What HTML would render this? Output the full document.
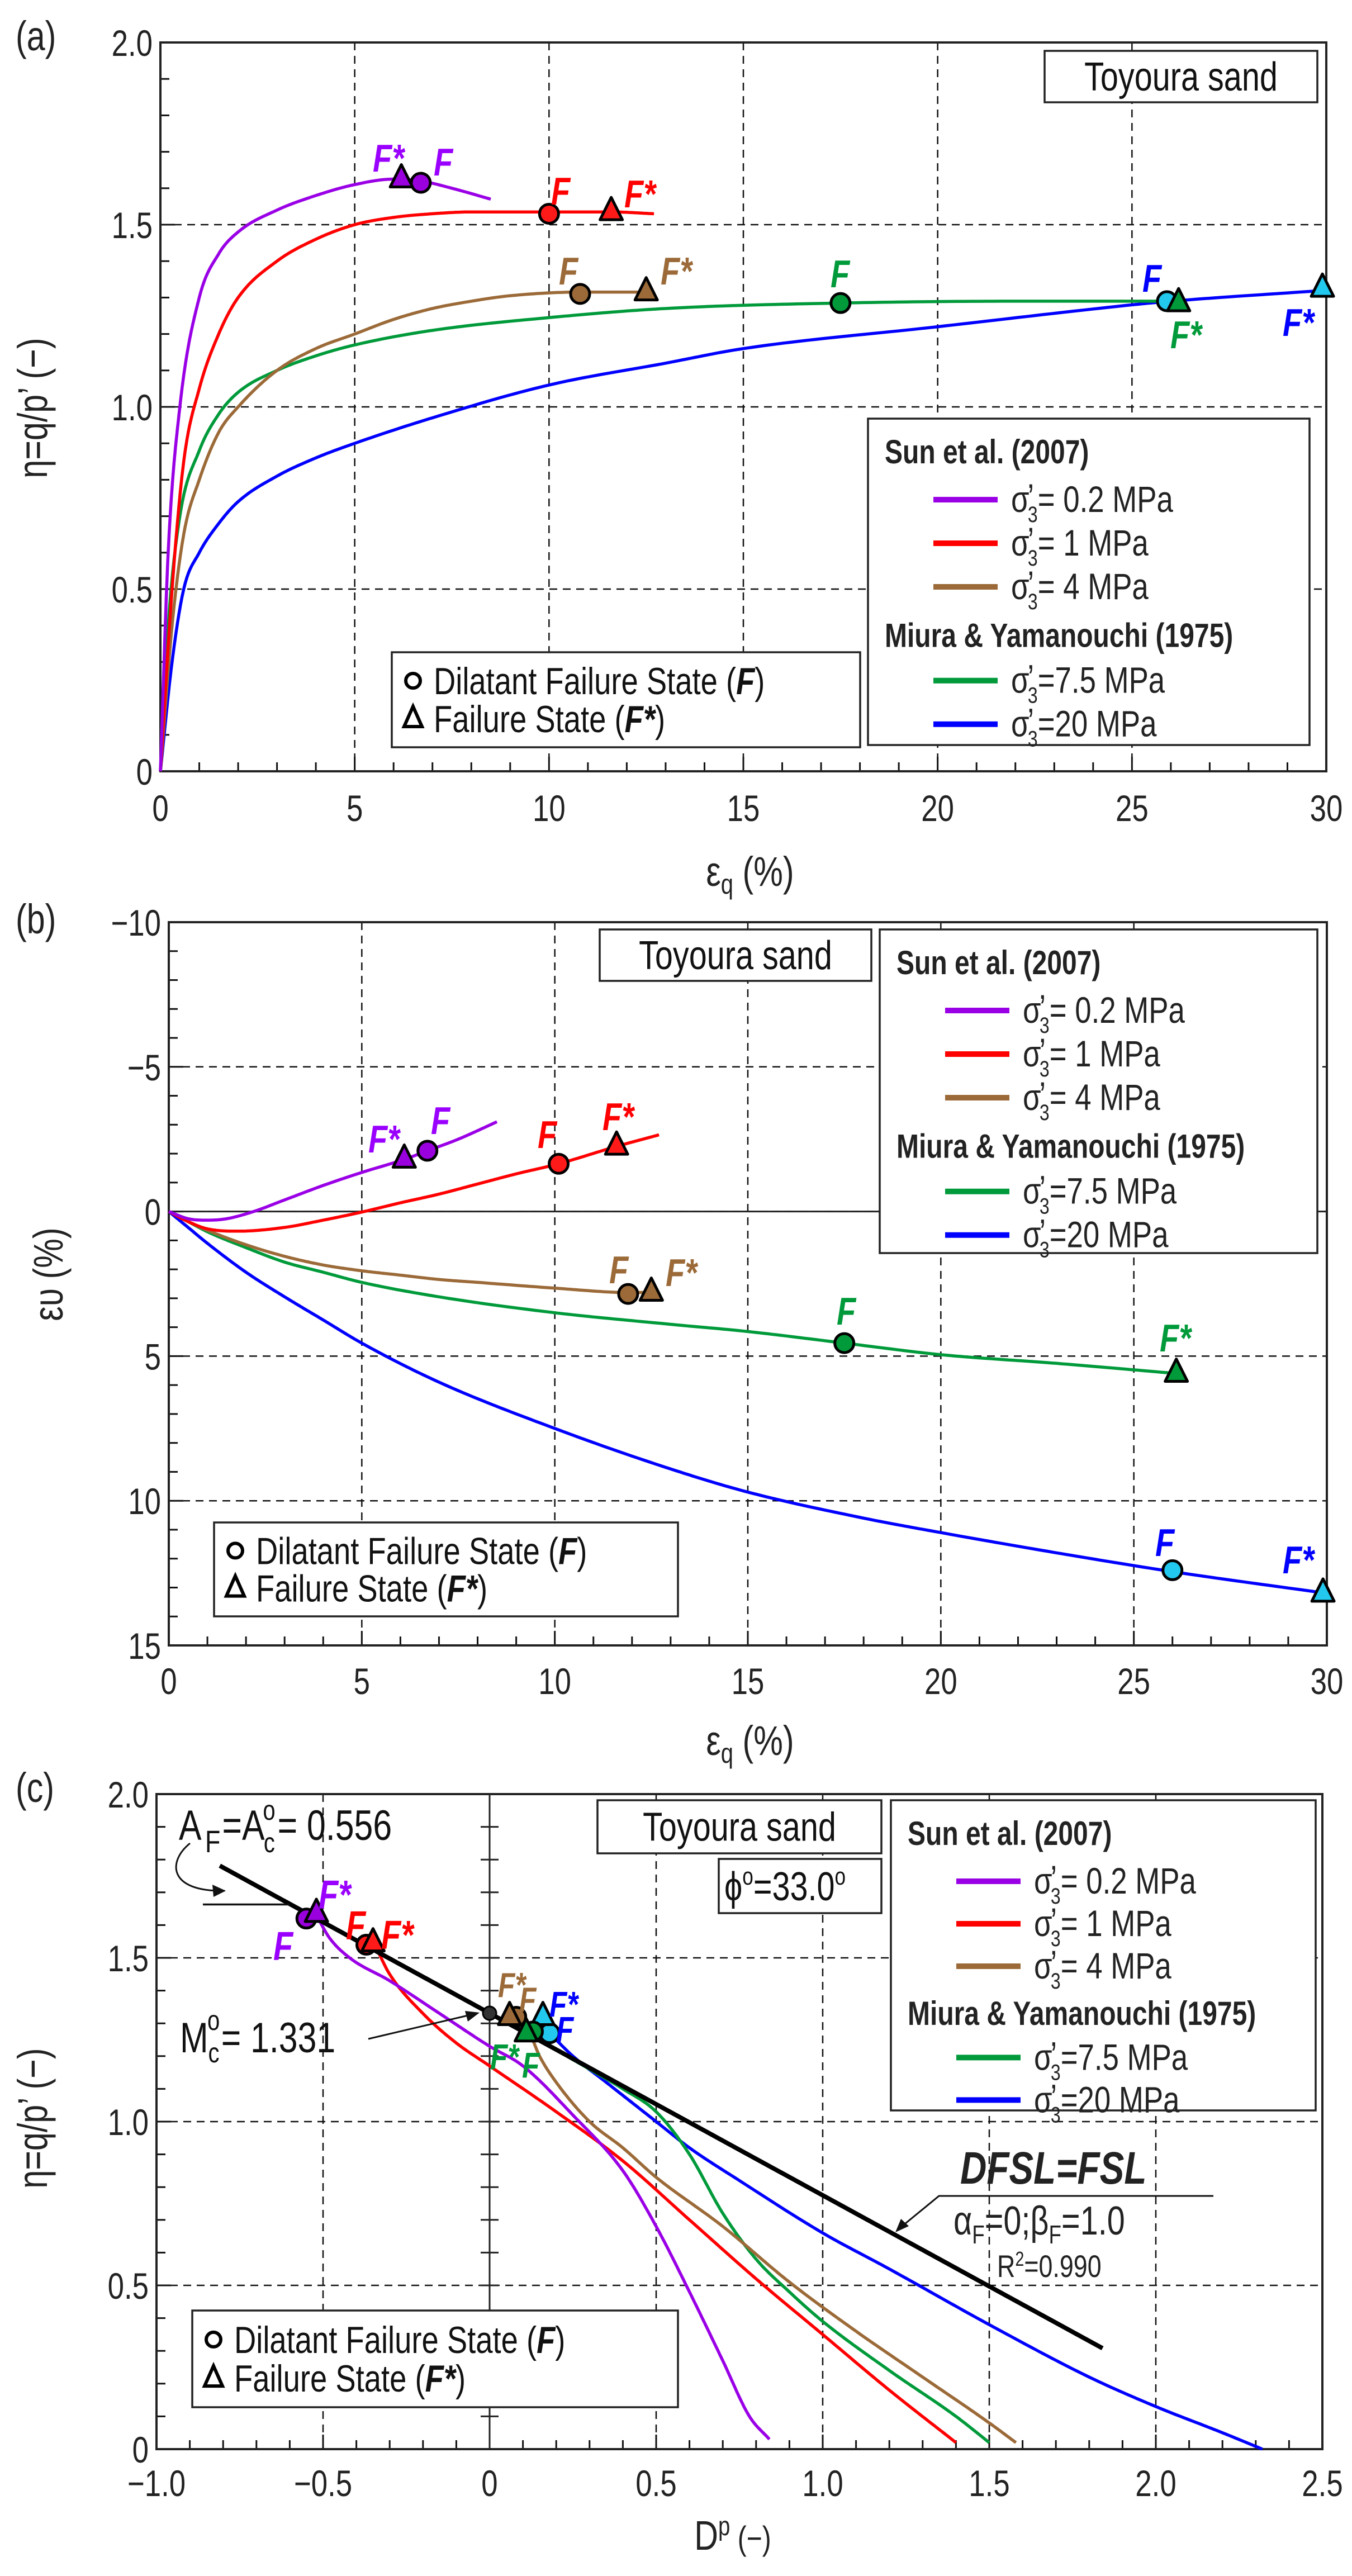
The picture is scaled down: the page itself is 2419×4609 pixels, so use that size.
<!DOCTYPE html>
<html><head><meta charset="utf-8"><title>Toyoura sand failure states</title>
<style>
html,body{margin:0;padding:0;background:#fff;}
svg{display:block;}
text{font-family:"Liberation Sans Narrow","Liberation Sans",sans-serif;}
.b{font-weight:bold;}
.fi{font-family:"Liberation Sans",sans-serif;font-weight:bold;font-style:italic;}
</style></head>
<body>
<svg id="fig" xmlns="http://www.w3.org/2000/svg" width="2419" height="4609" viewBox="0 0 2419 4609"></svg>
<script>
// ---------- Panel (a): eta vs eps_q ----------
const aPurpleX=[0,0.2,0.5,1,1.5,2,3,4,5,6,6.7,7.5,8.5];
const aPurpleY=[0,0.6,1.0,1.3,1.42,1.48,1.54,1.58,1.61,1.625,1.62,1.6,1.57];
const aRedX=[0,0.3,0.6,1,1.5,2,3,4,5,6,7,8,10,11.6,12.7];
const aRedY=[0,0.5,0.85,1.05,1.2,1.3,1.4,1.46,1.5,1.52,1.53,1.535,1.535,1.535,1.53];
const aBrownX=[0,0.3,0.6,1,1.5,2,3,4,5,6,7,8,9,10.8,12.5];
const aBrownY=[0,0.4,0.65,0.8,0.93,1.0,1.1,1.16,1.2,1.24,1.27,1.29,1.305,1.315,1.315];
const aGreenX=[0,0.2,0.5,1,1.5,2,3,4,5,7,10,13,17.5,22,26.2];
const aGreenY=[0,0.4,0.7,0.88,0.98,1.04,1.1,1.14,1.17,1.21,1.245,1.27,1.285,1.29,1.29];
const aBlueX=[0,0.3,0.6,1,1.5,2,3,4,5,7,10,13,15,20,25,26,30];
const aBlueY=[0,0.3,0.5,0.6,0.68,0.74,0.81,0.86,0.9,0.97,1.06,1.12,1.16,1.22,1.28,1.29,1.32];
const aFx=[6.7,10,10.8,17.5,25.9];
const aFy=[1.615,1.53,1.31,1.285,1.29];
const aFsx=[6.2,11.6,12.5,26.2,29.9];
const aFsy=[1.625,1.535,1.315,1.285,1.325];
const aXTicks=[0,5,10,15,20,25,30];
const aYTicks=[0,0.5,1.0,1.5,2.0];
const aYTickLabels=["0","0.5","1.0","1.5","2.0"];

// ---------- Panel (b): eps_v vs eps_q ----------
const bPurpleX=[0,0.5,1,1.5,2.2,3,4,5,6.1,6.7,7.5,8.5];
const bPurpleY=[0,0.25,0.3,0.25,0,-0.4,-0.9,-1.35,-1.8,-2.1,-2.5,-3.1];
const bRedX=[0,0.5,1,1.8,3,4,5,6,7,8,9,10.1,11.6,12.7];
const bRedY=[0,0.35,0.6,0.68,0.55,0.3,0.02,-0.3,-0.6,-0.95,-1.3,-1.65,-2.25,-2.65];
const bBrownX=[0,0.5,1,2,3,4,5,6,7,8,10,11.9,12.5];
const bBrownY=[0,0.35,0.65,1.15,1.55,1.85,2.05,2.2,2.35,2.45,2.65,2.8,2.8];
const bGreenX=[0,0.5,1,2,3,4,5,7,10,13,15,17.5,20,23,26.1];
const bGreenY=[0,0.35,0.7,1.25,1.75,2.1,2.45,2.95,3.5,3.9,4.15,4.55,4.95,5.25,5.6];
const bBlueX=[0,0.5,1,2,3,4,5,7,10,13,15,18,20,23,26,30];
const bBlueY=[0,0.55,1.1,2.1,2.95,3.75,4.55,5.9,7.5,8.9,9.7,10.6,11.1,11.8,12.45,13.2];
const bFx=[6.7,10.1,11.9,17.5,26];
const bFy=[-2.1,-1.65,2.85,4.55,12.4];
const bFsx=[6.1,11.6,12.5,26.1,29.9];
const bFsy=[-1.8,-2.25,2.8,5.6,13.2];
const bXTicks=[0,5,10,15,20,25,30];
const bYTicks=[-10,-5,0,5,10,15];
const bYTickLabels=["\u221210","\u22125","0","5","10","15"];

// ---------- Panel (c): eta vs D^p ----------
const cPurpleX=[-0.52,-0.48,-0.42,-0.3,-0.15,0,0.1,0.25,0.4,0.5,0.6,0.7,0.78,0.84];
const cPurpleY=[1.63,1.56,1.5,1.43,1.33,1.23,1.17,1.02,0.85,0.68,0.48,0.27,0.1,0.03];
const cRedX=[-0.34,-0.3,-0.2,-0.1,0,0.2,0.4,0.6,0.8,1.0,1.2,1.4];
const cRedY=[1.53,1.45,1.33,1.24,1.17,1.03,0.88,0.7,0.52,0.35,0.18,0.02];
const cBrownX=[0.08,0.12,0.15,0.2,0.3,0.4,0.5,0.7,0.9,1.1,1.3,1.5,1.58];
const cBrownY=[1.31,1.27,1.2,1.12,1.0,0.92,0.83,0.68,0.51,0.36,0.22,0.08,0.02];
const cGreenX=[0.13,0.2,0.3,0.4,0.5,0.6,0.7,0.8,0.9,1.0,1.2,1.4,1.5];
const cGreenY=[1.27,1.22,1.16,1.1,1.03,0.9,0.72,0.58,0.48,0.39,0.24,0.1,0.02];
const cBlueX=[0.18,0.25,0.35,0.5,0.6,0.75,1.0,1.2,1.5,1.8,2.0,2.2,2.32];
const cBlueY=[1.27,1.2,1.12,1.0,0.92,0.82,0.66,0.55,0.38,0.22,0.13,0.05,0.0];
const cFx=[-0.55,-0.37,0.08,0.13,0.18];
const cFy=[1.62,1.54,1.32,1.275,1.27];
const cFsx=[-0.52,-0.35,0.06,0.11,0.16];
const cFsy=[1.635,1.545,1.32,1.27,1.32];
const cLineX=[-0.81,1.84];
const cMc=[1.331];
const cAf=[0.556];
const cXTicks=[-1.0,-0.5,0,0.5,1.0,1.5,2.0,2.5];
const cXTickLabels=["\u22121.0","\u22120.5","0","0.5","1.0","1.5","2.0","2.5"];
const cYTicks=[0,0.5,1.0,1.5,2.0];
const cYTickLabels=["0","0.5","1.0","1.5","2.0"];

const NS="http://www.w3.org/2000/svg";
const svg=document.getElementById('fig');
function el(tag,attrs,parent){const e=document.createElementNS(NS,tag);for(const k in attrs)e.setAttribute(k,attrs[k]);(parent||svg).appendChild(e);return e;}
function txt(str,attrs,parent){const e=el('text',attrs,parent);e.textContent=str;return e;}
function lin(a,b,c,d){return v=>c+(v-a)*(d-c)/(b-a);}
// monotone cubic (Fritsch-Carlson) interpolation in data space, sampled densely
function monotonePts(xs,ys,P){
  const n=xs.length,dx=[],m=[],t=new Array(n);
  for(let i=0;i<n-1;i++){dx.push(xs[i+1]-xs[i]);m.push((ys[i+1]-ys[i])/(xs[i+1]-xs[i]));}
  t[0]=m[0];t[n-1]=m[n-2];
  for(let i=1;i<n-1;i++){t[i]=(m[i-1]*m[i]<=0)?0:(m[i-1]+m[i])/2;}
  for(let i=0;i<n-1;i++){
    if(m[i]===0){t[i]=0;t[i+1]=0;continue;}
    const a=t[i]/m[i],b=t[i+1]/m[i],s=a*a+b*b;
    if(s>9){const k=3/Math.sqrt(s);t[i]=k*a*m[i];t[i+1]=k*b*m[i];}
  }
  const out=[];
  for(let i=0;i<n-1;i++){
    const N=24;
    for(let k=0;k<N;k++){const u=k/N,h=dx[i];
      const h00=2*u*u*u-3*u*u+1,h10=u*u*u-2*u*u+u,h01=-2*u*u*u+3*u*u,h11=u*u*u-u*u;
      const y=h00*ys[i]+h10*h*t[i]+h01*ys[i+1]+h11*h*t[i+1];
      out.push([P.x(xs[i]+u*h),P.y(y)]);}
  }
  out.push([P.x(xs[n-1]),P.y(ys[n-1])]);
  return out;
}
const LINECOL=['#9a00e6','#ff0000','#9b6a38','#009a3a','#0000ff'];
const FILLCOL=['#9900dd','#ff1a1a','#9b6a38','#009a3a','#22c8ee'];
const LABCOL=['#9a00ff','#ff0000','#9b6a38','#009a3a','#0000ff'];
const NAMES=['0-2-mpa','1-mpa','4-mpa','7-5-mpa','20-mpa'];

function axes(g,P,xt,xtl,yt,ytl,xminor,yminor,tickY){
  xt.forEach(v=>{const X=P.x(v);if(Math.abs(X-P.L)<3||Math.abs(X-P.R)<3)return;
    const l=el('line',{x1:X,y1:P.T,x2:X,y2:P.B,stroke:'#111','stroke-width':2.5,'stroke-dasharray':'14 10'},g);
    
    });
  yt.forEach(v=>{const Y=P.y(v);if(Math.abs(Y-P.T)<3||Math.abs(Y-P.B)<3)return;
    const l=el('line',{x1:P.L,y1:Y,x2:P.R,y2:Y,stroke:'#111','stroke-width':2.5,'stroke-dasharray':'14 10'},g);
    
    });
  for(let v=xminor[0];v<=xminor[1]+1e-9;v+=xminor[2]){const X=P.x(v);
    const major=xt.some(t=>Math.abs(t-v)<1e-6);
    const l=el('line',{x1:X,y1:P.B,x2:X,y2:P.B-(major?26:16),stroke:'#111','stroke-width':3},g);
    
    }
  for(let v=yminor[0];v<=yminor[1]+1e-9;v+=yminor[2]){const Y=P.y(v);
    const major=yt.some(t=>Math.abs(t-v)<1e-6);
    const l=el('line',{x1:P.L,y1:Y,x2:P.L+(major?26:16),y2:Y,stroke:'#111','stroke-width':3},g);
    
    }
  const fr=el('rect',{x:P.L,y:P.T,width:P.R-P.L,height:P.B-P.T,fill:'none',stroke:'#222','stroke-width':4},g);
  
  
  xt.forEach((v,i)=>{const t=txt(xtl[i],{x:P.x(v),y:tickY,'font-size':66,'text-anchor':'middle',fill:'#222'},g);
    
    });
  yt.forEach((v,i)=>{const t=txt(ytl[i],{x:P.L-14,y:P.y(v)+24,'font-size':66,'text-anchor':'end',fill:'#222'},g);
    
    });
}
function series(g,P,xs,ys,i){
  const pts=monotonePts(xs,ys,P);
  const p=el('polyline',{points:pts.map(q=>q[0].toFixed(1)+','+q[1].toFixed(1)).join(' '),fill:'none',stroke:LINECOL[i],'stroke-width':5.5,'stroke-linejoin':'round'},g);
  
  
}
function markers(g,P,fx,fy,fsx,fsy,order){
  order.forEach(i=>{
    const X=P.x(fx[i]),Y=P.y(fy[i]);
    const c=el('circle',{cx:X,cy:Y,r:17,fill:FILLCOL[i],stroke:'#000','stroke-width':5},g);
    
    
    const X2=P.x(fsx[i]),Y2=P.y(fsy[i]);
    const t=el('polygon',{points:`${X2},${Y2-26} ${X2-20},${Y2+14} ${X2+20},${Y2+14}`,fill:FILLCOL[i],stroke:'#000','stroke-width':5,'stroke-linejoin':'round'},g);
    
    
  });
}
function flab(g,s,x,y,i,fs){
  const t=el('text',{x:x,y:y,'font-size':fs||70,fill:LABCOL[i],class:'fi'},g);
  t.textContent=s;
  
  
}
function boxText(g,x,y,w,h,str,name){
  const r=el('rect',{x:x,y:y,width:w,height:h,fill:'#fff',stroke:'#222','stroke-width':3.5},g);
  
  
  const t=txt(str,{x:x+w/2,y:y+h/2+25,'font-size':72,'text-anchor':'middle',fill:'#111'},g);
  
  
}
function sigmaText(g,x,y,val){
  const t=el('text',{x:x,y:y,'font-size':66,fill:'#222'},g);
  
  
  const a=el('tspan',{},t);a.textContent='σ';
  const b=el('tspan',{dx:-4,dy:-4},t);b.textContent='’';
  const c=el('tspan',{dx:-14,dy:22,'font-size':40},t);c.textContent='3';
  const d=el('tspan',{dy:-18},t);d.textContent=val;
}
function legend(g,x,y,w,h,gap){
  const r=el('rect',{x:x,y:y,width:w,height:h,fill:'#fff',stroke:'#222','stroke-width':3.5},g);
  
  
  const h1=txt('Sun et al. (2007)',{x:x+30,y:y+80,'font-size':60,class:'b',fill:'#222'},g);
  
  
  const vals=['= 0.2 MPa','= 1 MPa','= 4 MPa','=7.5 MPa','=20 MPa'];
  const ys=[y+145,y+145+gap,y+145+2*gap,y+145+3*gap+gap*1.15,y+145+4*gap+gap*1.15];
  const h2=txt('Miura & Yamanouchi (1975)',{x:x+30,y:ys[2]+gap*1.38,'font-size':60,class:'b',fill:'#222'},g);
  
  
  vals.forEach((v,i)=>{
    const l=el('line',{x1:x+117,y1:ys[i],x2:x+232,y2:ys[i],stroke:LINECOL[i],'stroke-width':10},g);
    
    
    sigmaText(g,x+256,ys[i]+22,v);
  });
}
function stateLegend(g,x,y,w,h){
  const r=el('rect',{x:x,y:y,width:w,height:h,fill:'#fff',stroke:'#222','stroke-width':3.5},g);
  
  
  const c=el('circle',{cx:x+38,cy:y+h*0.3,r:13,fill:'#fff',stroke:'#000','stroke-width':6},g);
  
  
  const tr=el('polygon',{points:`${x+38},${y+h*0.7-22} ${x+22},${y+h*0.7+14} ${x+54},${y+h*0.7+14}`,fill:'#fff',stroke:'#000','stroke-width':6},g);
  
  
  const t1=el('text',{x:x+75,y:y+h*0.3+24,'font-size':68,fill:'#111'},g);
  
  
  t1.appendChild(document.createTextNode('Dilatant Failure State ('));
  const f1=el('tspan',{class:'fi'},t1);f1.textContent='F';
  t1.appendChild(document.createTextNode(')'));
  const t2=el('text',{x:x+75,y:y+h*0.7+24,'font-size':68,fill:'#111'},g);
  
  
  t2.appendChild(document.createTextNode('Failure State ('));
  const f2=el('tspan',{class:'fi'},t2);f2.textContent='F*';
  t2.appendChild(document.createTextNode(')'));
}
function panelLabel(g,s,y){const t=txt(s,{x:28,y:y,'font-size':74,fill:'#222'},g);
  
  }
function ylab(g,s,x,y){const t=txt(s,{x:x,y:y,'font-size':74,'text-anchor':'middle',fill:'#222','data-rot':'1'},g);
  
  return t;}
function epsq(g,cx,y){const t=el('text',{x:cx,y:y,'font-size':74,'text-anchor':'middle',fill:'#222'},g);
  
  
  const a=el('tspan',{},t);a.textContent='ε';
  const b=el('tspan',{dy:14,'font-size':50},t);b.textContent='q';
  const c=el('tspan',{dy:-14},t);c.textContent=' (%)';}

// ===== Panel A =====
(function(){
  const g=el('g',{});
  
  
  const P={L:287,R:2373,T:76,B:1380};P.x=lin(0,30,P.L,P.R);P.y=lin(0,2,P.B,P.T);
  axes(g,P,aXTicks,aXTicks.map(String),aYTicks,aYTickLabels,[0,30,1],[0,2,0.1],1469);
  const X=[aPurpleX,aRedX,aBrownX,aGreenX,aBlueX],Y=[aPurpleY,aRedY,aBrownY,aGreenY,aBlueY];
  [4,3,2,1,0].forEach(i=>series(g,P,X[i],Y[i],i));
  markers(g,P,aFx,aFy,aFsx,aFsy,[0,1,2,4,3]);
  flab(g,'F*',667,307,0);flab(g,'F',776,314,0);
  flab(g,'F',986,366,1);flab(g,'F*',1117,371,1);
  flab(g,'F',1000,509,2);flab(g,'F*',1182,509,2);
  flab(g,'F',1486,514,3);flab(g,'F*',2094,623,3);
  flab(g,'F',2044,522,4);flab(g,'F*',2295,601,4);
  boxText(g,1869,91,488,92,'Toyoura sand','material-label-box');
  legend(g,1553,749,790,584,78);
  stateLegend(g,701,1167,838,170);
  panelLabel(g,'(a)',90);
  ylab(g,'η=q/p’ (−)',84,730);
  epsq(g,1342,1585);
})();

// ===== Panel B =====
(function(){
  const g=el('g',{});
  
  
  const P={L:302,R:2374,T:1650,B:2944};P.x=lin(0,30,P.L,P.R);P.y=lin(-10,15,P.T,P.B);
  axes(g,P,bXTicks,bXTicks.map(String),bYTicks,bYTickLabels,[0,30,1],[-10,15,1],3031);
  const z=el('line',{x1:P.L,y1:P.y(0),x2:P.R,y2:P.y(0),stroke:'#222','stroke-width':3},g);
  
  
  const X=[bPurpleX,bRedX,bBrownX,bGreenX,bBlueX],Y=[bPurpleY,bRedY,bBrownY,bGreenY,bBlueY];
  [4,3,2,1,0].forEach(i=>series(g,P,X[i],Y[i],i));
  markers(g,P,bFx,bFy,bFsx,bFsy,[0,1,2,3,4]);
  flab(g,'F*',659,2062,0);flab(g,'F',771,2029,0);
  flab(g,'F',962,2054,1);flab(g,'F*',1078,2022,1);
  flab(g,'F',1090,2296,2);flab(g,'F*',1191,2301,2);
  flab(g,'F',1497,2370,3);flab(g,'F*',2075,2418,3);
  flab(g,'F',2067,2784,4);flab(g,'F*',2295,2815,4);
  boxText(g,1073,1663,486,92,'Toyoura sand','material-label-box');
  legend(g,1574,1663,783,579,78);
  stateLegend(g,383,2724,830,168);
  panelLabel(g,'(b)',1670);
  ylab(g,'ευ (%)',112,2280);
  epsq(g,1342,3140);
})();

// ===== Panel C =====
(function(){
  const g=el('g',{});
  
  
  const P={L:280,R:2366,T:3210,B:4382};P.x=lin(-1,2.5,P.L,P.R);P.y=lin(0,2,P.B,P.T);
  axes(g,P,cXTicks,cXTickLabels,cYTicks,cYTickLabels,[-1,2.5,0.1],[0,2,0.1],4466);
  const X0=P.x(0);
  const v0=el('line',{x1:X0,y1:P.T,x2:X0,y2:P.B,stroke:'#222','stroke-width':3},g);
  
  
  for(let v=0;v<=2.001;v+=0.1){const Y=P.y(v);
    const t=el('line',{x1:X0-16,y1:Y,x2:X0+16,y2:Y,stroke:'#222','stroke-width':3},g);
    
    }
  const X=[cPurpleX,cRedX,cBrownX,cGreenX,cBlueX],Y=[cPurpleY,cRedY,cBrownY,cGreenY,cBlueY];
  [4,3,2,1,0].forEach(i=>series(g,P,X[i],Y[i],i));
  const l=el('line',{x1:P.x(cLineX[0]),y1:P.y(cMc[0]-cAf[0]*cLineX[0]),x2:P.x(cLineX[1]),y2:P.y(cMc[0]-cAf[0]*cLineX[1]),stroke:'#000','stroke-width':8},g);
  
  
  const dot=el('circle',{cx:P.x(0),cy:P.y(cMc[0]),r:12,fill:'#333',stroke:'#000','stroke-width':3},g);
  
  
  markers(g,P,cFx,cFy,cFsx,cFsy,[0,1,2,4,3]);
  flab(g,'F*',570,3415,0,72);flab(g,'F',489,3507,0,72);
  flab(g,'F',619,3470,1,72);flab(g,'F*',682,3487,1,72);
  flab(g,'F*',891,3573,2,62);flab(g,'F',929,3599,2,62);
  flab(g,'F*',983,3608,4,64);flab(g,'F',995,3653,4,64);
  flab(g,'F*',877,3702,3,64);flab(g,'F',934,3717,3,64);
  const af=el('text',{x:320,y:3292,'font-size':76,fill:'#111'},g);
  
  
  [['A',0,0,76],['F',8,22,56],['=A',4,-22,76],['o',-4,-36,50],['c',-26,58,50],['= 0.556',6,-22,76]].forEach(p=>{const s=el('tspan',{dx:p[1],dy:p[2],'font-size':p[3]},af);s.textContent=p[0];});
  const ar1=el('path',{d:'M340,3298 C300,3330 300,3385 402,3383',fill:'none',stroke:'#111','stroke-width':3},g);
  
  
  const ah1=el('polygon',{points:'404,3383 380,3372 382,3394',fill:'#111'},g);
  
  
  const hl=el('line',{x1:363,y1:P.y(1.663),x2:P.x(-0.6),y2:P.y(1.663),stroke:'#111','stroke-width':3.5},g);
  
  
  const mc=el('text',{x:322,y:3672,'font-size':76,fill:'#111'},g);
  
  
  [['M',0,0,76],['o',-2,-40,50],['c',-26,58,50],['= 1.331',4,-18,76]].forEach(p=>{const s=el('tspan',{dx:p[1],dy:p[2],'font-size':p[3]},mc);s.textContent=p[0];});
  const ar2=el('line',{x1:659,y1:3648,x2:850,y2:3603,stroke:'#111','stroke-width':3},g);
  
  
  const ah2=el('polygon',{points:'858,3601 832,3598 837,3617',fill:'#111'},g);
  
  
  boxText(g,1069,3221,508,95,'Toyoura sand','material-label-box');
  const pr=el('rect',{x:1286,y:3326,width:291,height:97,fill:'#fff',stroke:'#222','stroke-width':3.5},g);
  
  
  const ph=el('text',{x:1296,y:3400,'font-size':72,fill:'#111'},g);
  
  
  [['ϕ',0,0,72],['o',0,-28,44],['=33.0',0,28,72],['o',0,-28,44]].forEach(p=>{const s=el('tspan',{dx:p[1],dy:p[2],'font-size':p[3]},ph);s.textContent=p[0];});
  legend(g,1594,3221,760,555,76);
  stateLegend(g,344,4134,869,173);
  const ds=txt('DFSL=FSL',{x:1718,y:3907,'font-size':82,class:'fi',fill:'#222'},g);
  
  
  const ul=el('path',{d:'M2171,3929 L1680,3929 L1608,3988',fill:'none',stroke:'#111','stroke-width':3},g);
  
  
  const ah3=el('polygon',{points:'1602,3994 1612,3970 1626,3983',fill:'#111'},g);
  
  
  const ab=el('text',{x:1706,y:3998,'font-size':72,fill:'#222'},g);
  
  
  [['α',0,0,72],['F',0,16,46],['=0;β',0,-16,72],['F',0,16,46],['=1.0',0,-16,72]].forEach(p=>{const s=el('tspan',{dx:p[1],dy:p[2],'font-size':p[3]},ab);s.textContent=p[0];});
  const r2=el('text',{x:1784,y:4074,'font-size':56,fill:'#222'},g);
  
  
  [['R',0,0,56],['2',0,-20,36],['=0.990',0,20,56]].forEach(p=>{const s=el('tspan',{dx:p[1],dy:p[2],'font-size':p[3]},r2);s.textContent=p[0];});
  panelLabel(g,'(c)',3224);
  ylab(g,'η=q/p’ (−)',84,3790);
  const xl=el('text',{x:1311,y:4562,'font-size':74,'text-anchor':'middle',fill:'#222'},g);
  
  
  const a=el('tspan',{},xl);a.textContent='D';
  const b=el('tspan',{dy:-26,'font-size':48},xl);b.textContent='p';
  const c=el('tspan',{dy:26,'font-size':60},xl);c.textContent=' (−)';
})();

// emulate the condensed typeface: narrow every text horizontally around its anchor
const SX=0.8;
svg.querySelectorAll('text').forEach(t=>{
  const x=+t.getAttribute('x'),y=+t.getAttribute('y');
  if(t.getAttribute('data-rot')){
    t.setAttribute('transform',`rotate(-90 ${x} ${y}) translate(${x} ${y}) scale(${SX} 1) translate(${-x} ${-y})`);
  }else{
    t.setAttribute('transform',`translate(${x} 0) scale(${SX} 1) translate(${-x} 0)`);
  }
});
</script>
</body></html>
